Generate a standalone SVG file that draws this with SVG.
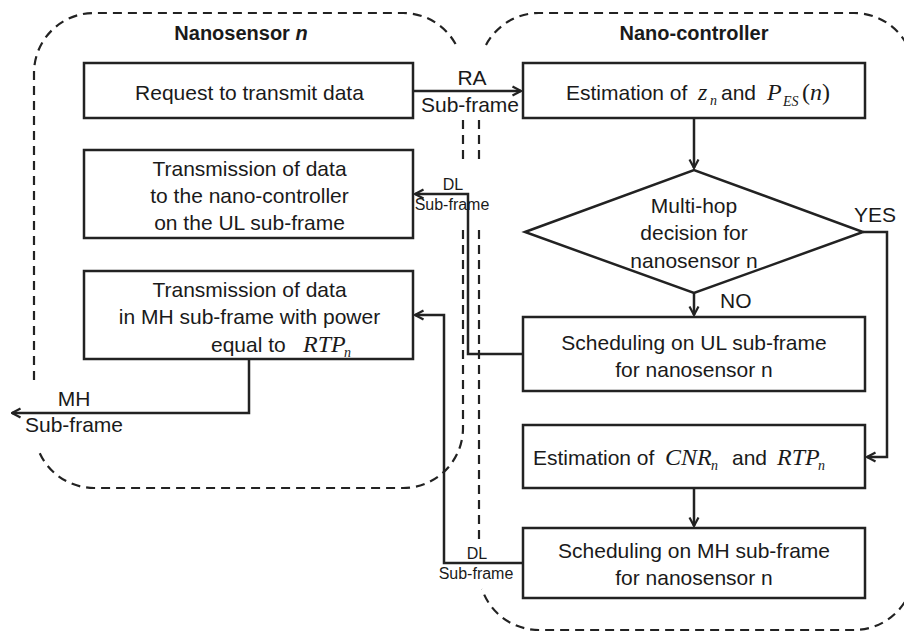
<svg xmlns="http://www.w3.org/2000/svg" width="904" height="631" viewBox="0 0 904 631">
<style>
  .bg { fill: #ffffff; }
  .region { fill: none; stroke: #222; stroke-width: 2.2; stroke-dasharray: 9 6; }
  .box { fill: #ffffff; stroke: #222; stroke-width: 2.5; }
  .conn { fill: none; stroke: #222; stroke-width: 2.5; }
  .t { font-family: "Liberation Sans", Arial, sans-serif; font-size: 21px; fill: #1a1a1a; }
  .c { text-anchor: middle; }
  .title { font-family: "Liberation Sans", Arial, sans-serif; font-size: 20px; font-weight: bold; fill: #1a1a1a; text-anchor: middle; }
  .small { font-family: "Liberation Sans", Arial, sans-serif; font-size: 16px; fill: #1a1a1a; }
  .m { font-family: "Liberation Serif", "Times New Roman", serif; font-style: italic; font-size: 24px; fill: #1a1a1a; }
  .ms { font-family: "Liberation Serif", "Times New Roman", serif; font-style: italic; font-size: 14px; fill: #1a1a1a; }
</style>
<defs>
  <marker id="arr" viewBox="0 0 12 12" refX="10.5" refY="6" markerWidth="12" markerHeight="12" markerUnits="userSpaceOnUse" orient="auto">
    <path d="M2,1.5 L10.5,6 L2,10.5" fill="none" stroke="#222" stroke-width="2.2"/>
  </marker>
</defs>
<rect class="bg" x="0" y="0" width="904" height="631"/>

<g id="region-nanosensor">
  <path class="region" d="M34,380 V73 A60,60 0 0 1 94,13 H403 A60,60 0 0 1 458,49"/>
  <path class="region" d="M463,120 V160"/>
  <path class="region" d="M463,230 V428 A60,60 0 0 1 403,488 H94 A60,60 0 0 1 38,449"/>
  <text class="title" x="241" y="40">Nanosensor <tspan font-style="italic">n</tspan></text>
</g>
<g id="region-nanocontroller">
  <path class="region" d="M486,45 A60,60 0 0 1 539,13 H854 A60,60 0 0 1 914,73 V570 A60,60 0 0 1 854,630 H539 A60,60 0 0 1 482,589"/>
  <path class="region" d="M479,120 V160"/>
  <path class="region" d="M479,230 V540"/>
  <text class="title" x="694" y="40">Nano-controller</text>
</g>

<g id="connectors">
  <path class="conn" d="M413,91 H521" marker-end="url(#arr)"/>
  <path class="conn" d="M523,354 H468 V194 H415" marker-end="url(#arr)"/>
  <path class="conn" d="M523,563 H444 V315 H415" marker-end="url(#arr)"/>
  <path class="conn" d="M249,359 V413 H12" marker-end="url(#arr)"/>
  <path class="conn" d="M694,118 V168" marker-end="url(#arr)"/>
  <path class="conn" d="M694,293 V315" marker-end="url(#arr)"/>
  <path class="conn" d="M863,232 H887 V457 H867" marker-end="url(#arr)"/>
  <path class="conn" d="M694,488 V526" marker-end="url(#arr)"/>
  <text class="t c" x="472" y="85">RA</text>
  <text class="t c" x="470" y="112">Sub-frame</text>
  <text class="small c" x="453" y="190">DL</text>
  <text class="small c" x="452" y="210">Sub-frame</text>
  <text class="small c" x="477" y="559">DL</text>
  <text class="small c" x="476" y="579">Sub-frame</text>
  <text class="t c" x="74" y="406">MH</text>
  <text class="t c" x="74" y="432">Sub-frame</text>
  <text class="t" x="854" y="222" font-size="20">YES</text>
  <text class="t" x="720" y="308" font-size="20">NO</text>
</g>

<g id="node-request">
  <rect class="box" x="84" y="63" width="329" height="55"/>
  <text class="t c" x="249.5" y="100">Request to transmit data</text>
</g>
<g id="node-tx-ul">
  <rect class="box" x="84" y="150" width="329" height="88"/>
  <text class="t c" x="249.5" y="176">Transmission of data</text>
  <text class="t c" x="249.5" y="203">to the nano-controller</text>
  <text class="t c" x="249.5" y="230">on the UL sub-frame</text>
</g>
<g id="node-tx-mh">
  <rect class="box" x="84" y="271" width="329" height="88"/>
  <text class="t c" x="249.5" y="297">Transmission of data</text>
  <text class="t c" x="249.5" y="324">in MH sub-frame with power</text>
  <text class="t" x="211" y="352">equal to</text>
  <text class="m" x="303" y="352">RTP</text>
  <text class="ms" x="344" y="357">n</text>
</g>
<g id="node-est-z">
  <rect class="box" x="523" y="63" width="342" height="55"/>
  <text class="t" x="566" y="100">Estimation of</text>
  <text class="m" x="698" y="100">z</text>
  <text class="ms" x="710" y="105">n</text>
  <text class="t" x="721" y="100">and</text>
  <text class="m" x="767" y="100" font-size="26">P</text>
  <text class="ms" x="783" y="106">ES</text>
  <text class="m" x="802" y="100" font-size="26"><tspan font-style="normal">(</tspan>n<tspan font-style="normal">)</tspan></text>
</g>
<g id="node-decision">
  <polygon class="box" points="525,232 694,170 863,232 694,293"/>
  <text class="t c" x="694" y="213">Multi-hop</text>
  <text class="t c" x="694" y="240">decision for</text>
  <text class="t c" x="694" y="268">nanosensor n</text>
</g>
<g id="node-sched-ul">
  <rect class="box" x="523" y="317" width="342" height="74"/>
  <text class="t c" x="694" y="350">Scheduling on UL sub-frame</text>
  <text class="t c" x="694" y="377">for nanosensor n</text>
</g>
<g id="node-est-cnr">
  <rect class="box" x="523" y="425" width="342" height="63"/>
  <text class="t" x="533" y="465">Estimation of</text>
  <text class="m" x="665" y="465">CNR</text>
  <text class="ms" x="711" y="470">n</text>
  <text class="t" x="732" y="465">and</text>
  <text class="m" x="777" y="465">RTP</text>
  <text class="ms" x="818" y="470">n</text>
</g>
<g id="node-sched-mh">
  <rect class="box" x="523" y="528" width="342" height="70"/>
  <text class="t c" x="694" y="558">Scheduling on MH sub-frame</text>
  <text class="t c" x="694" y="585">for nanosensor n</text>
</g>
</svg>
